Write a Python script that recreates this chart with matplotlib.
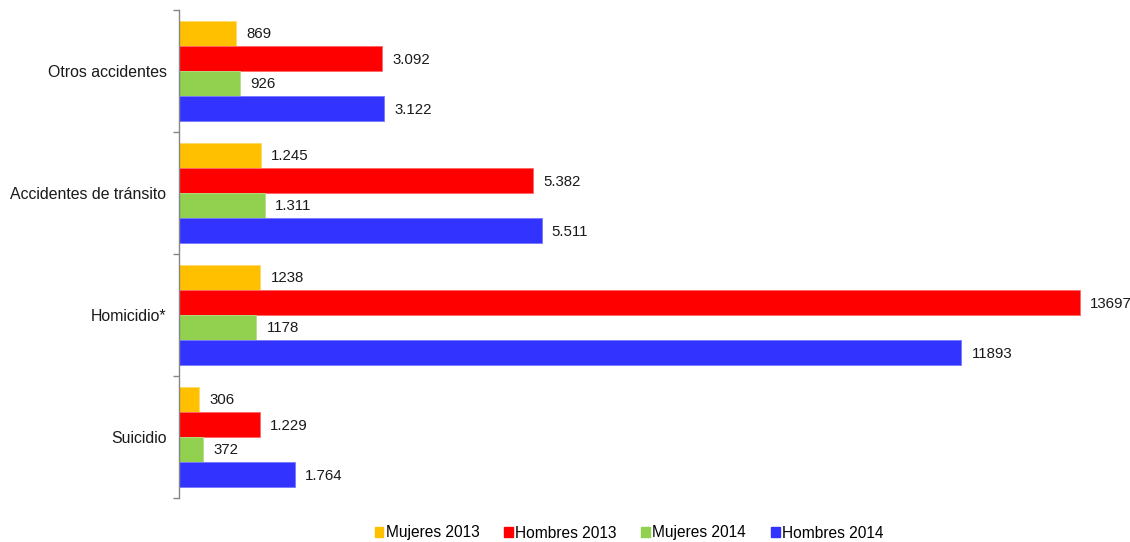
import matplotlib
matplotlib.use("Agg")
import matplotlib.pyplot as plt
import numpy as np
from matplotlib.patches import Patch

categories = ["Otros accidentes", "Accidentes de tránsito", "Homicidio*", "Suicidio"]
series_names = ["Mujeres 2013", "Hombres 2013", "Mujeres 2014", "Hombres 2014"]
mujeres_2013 = [869, 1245, 1238, 306]
hombres_2013 = [3092, 5382, 13697, 1229]
mujeres_2014 = [926, 1311, 1178, 372]
hombres_2014 = [3122, 5511, 11893, 1764]
labels_m13 = ["869", "1.245", "1238", "306"]
labels_h13 = ["3.092", "5.382", "13697", "1.229"]
labels_m14 = ["926", "1.311", "1178", "372"]
labels_h14 = ["3.122", "5.511", "11893", "1.764"]

colors = ["#FFC000", "#FF0000", "#92D050", "#3333FF"]
edge_colors = ["#FFD966", "#FF6666", "#B3DE85", "#7777FF"]

plt.rcParams['font.family'] = ['Liberation Sans', 'DejaVu Sans']

fig = plt.figure(figsize=(11.3, 5.42), dpi=100)
W, H = 1130, 542
ax = fig.add_axes([179 / W, (H - 498) / H, 921 / W, 488 / H])

series = [mujeres_2013, hombres_2013, mujeres_2014, hombres_2014]
labels = [labels_m13, labels_h13, labels_m14, labels_h14]
h = 25 / 122
y = np.arange(len(categories))
for i, (vals, labs) in enumerate(zip(series, labels)):
    pos = y + (i - 1.5) * h
    bars = ax.barh(pos, vals, height=h, color=colors[i], edgecolor=edge_colors[i],
                   linewidth=0.6)
    for b, lab in zip(bars, labs):
        ax.annotate(lab, (b.get_width(), b.get_y() + b.get_height() / 2),
                    xytext=(10, -1), textcoords="offset pixels",
                    va="center", ha="left", fontsize=10.8, color="#1a1a1a")

ax.set_ylim(3.5, -0.5)
ax.set_xlim(0, 14000)
ax.set_yticks(y)
ax.set_yticklabels(categories, fontsize=11.4, color="#1a1a1a")
ax.tick_params(axis="y", which="major", length=0, pad=9)
ax.set_yticks(np.arange(-0.5, 4.0, 1.0), minor=True)
ax.tick_params(axis="y", which="minor", length=4, width=1, color="#868686", direction="out")
for s in ["top", "right", "bottom"]:
    ax.spines[s].set_visible(False)
ax.spines["left"].set_color("#868686")
ax.spines["left"].set_linewidth(1)
ax.xaxis.set_visible(False)

handles = [Patch(facecolor=c, edgecolor=c) for c in colors]
fig.legend(handles, series_names, loc="center", bbox_to_anchor=(629 / W, (H - 533) / H),
           ncol=4, frameon=False, fontsize=11.2, handlelength=0.55, handleheight=0.55,
           handletextpad=0.15, columnspacing=1.6)

fig.savefig("out.png", dpi=100)
